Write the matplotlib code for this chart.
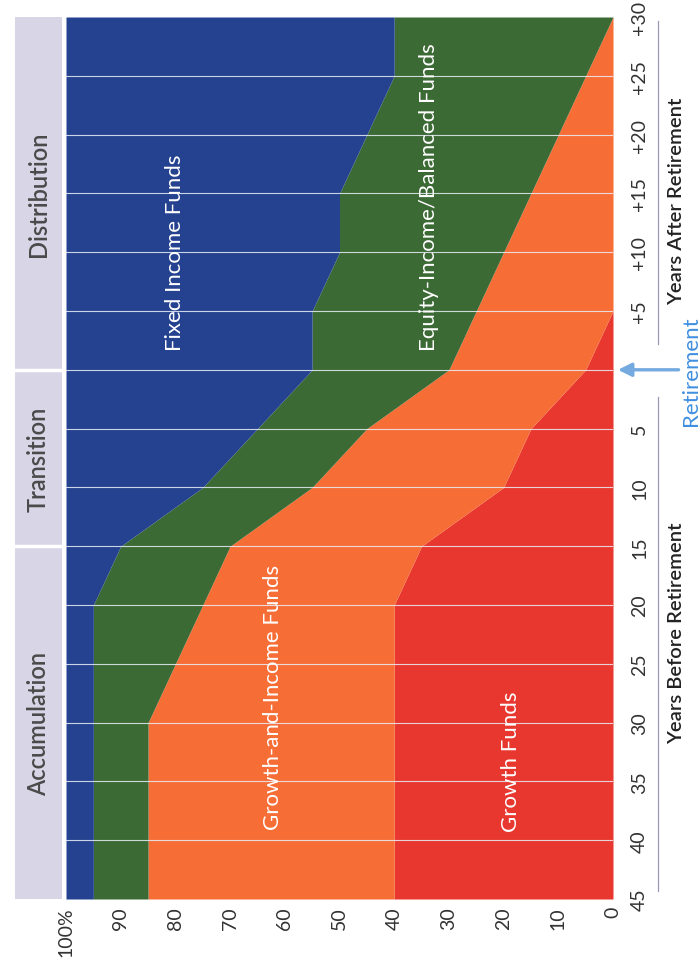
import numpy as np
import matplotlib.pyplot as plt
from matplotlib.lines import Line2D
from matplotlib.transforms import blended_transform_factory

plt.rcParams['font.family'] = ['Lato', 'DejaVu Sans']

# years relative to retirement, one row every 5 years
positions = np.arange(16)
year_labels = ['45', '40', '35', '30', '25', '20', '15', '10', '5', '',
               '+5', '+10', '+15', '+20', '+25', '+30']
retire_pos = 9

# allocation mix (%) at each step
growth = [40, 40, 40, 40, 40, 40, 35, 20, 15, 5, 0, 0, 0, 0, 0, 0]
growth_income = [45, 45, 45, 45, 40, 35, 35, 35, 30, 25, 25, 20, 15, 10, 5, 0]
equity_balanced = [10, 10, 10, 10, 15, 20, 20, 20, 20, 25, 30, 30, 35, 35, 35, 40]
fixed_income = [5, 5, 5, 5, 5, 5, 10, 25, 35, 45, 45, 50, 50, 55, 60, 60]

phases = ['Accumulation', 'Transition', 'Distribution']
phase_edges = [0, 6, 9, 15]

pct_ticks = [0, 10, 20, 30, 40, 50, 60, 70, 80, 90, 100]
pct_labels = ['0', '10', '20', '30', '40', '50', '60', '70', '80', '90', '100%']

colors = ['#e8372f', '#f76d36', '#3c6a34', '#24428f']

W, H = 700, 962
fig = plt.figure(figsize=(7, 9.62), dpi=100)
fig.patch.set_facecolor('white')

left, right, top, bottom = 66, 613, 18, 900
ax = fig.add_axes([left / W, 1 - bottom / H, (right - left) / W, (bottom - top) / H])

# stacked bands, drawn sideways
series = [growth, growth_income, equity_balanced, fixed_income]
base = np.zeros(len(positions))
for vals, c in zip(series, colors):
    upper = base + np.array(vals)
    ax.fill_betweenx(positions, base, upper, color=c, lw=0)
    base = upper

ax.set_xlim(100, 0)
ax.set_ylim(positions[0], positions[-1])
for p in positions[1:-1]:
    ax.axhline(p, color='#e9eef8', lw=0.8, alpha=0.85)

ax.set_xticks(pct_ticks)
ax.set_xticklabels(pct_labels, rotation=90, fontsize=14, color='#333333')
ax.yaxis.tick_right()
ax.set_yticks(positions)
ax.set_yticklabels(year_labels, rotation=90, fontsize=14, color='#333333', va='center')
ax.tick_params(length=0)
ax.tick_params(axis='x', pad=5)
ax.tick_params(axis='y', pad=13)
for s in ax.spines.values():
    s.set_visible(False)

# band names
lab = dict(color='white', rotation=90, ha='center', va='center', fontsize=16)
ax.text(80, 11.0, 'Fixed Income Funds', **lab)
ax.text(33.6, 11.95, 'Equity-Income/Balanced Funds', **lab)
ax.text(62.2, 3.45, 'Growth-and-Income Funds', **lab)
ax.text(18.6, 2.35, 'Growth Funds', **lab)

# retirement marker
tr = blended_transform_factory(ax.transAxes, ax.transData)
ax.annotate('', xy=(1.004, retire_pos), xytext=(1.125, retire_pos),
            xycoords=tr, textcoords=tr, annotation_clip=False,
            arrowprops=dict(arrowstyle='-|>', color='#74aae0', lw=2.4, mutation_scale=20))
ax.text(1.143, retire_pos, 'Retirement', transform=tr, rotation=90, ha='center',
        va='center', fontsize=16, color='#3f8fe0')

# axis captions and their rules
fig.text(677 / W, 1 - 633 / H, 'Years Before Retirement', rotation=90, ha='center',
         va='center', fontsize=14.5, fontweight='semibold', color='#222222')
fig.text(677 / W, 1 - 201 / H, 'Years After Retirement', rotation=90, ha='center',
         va='center', fontsize=14.5, fontweight='semibold', color='#222222')
for y0, y1 in [(22, 345), (398, 892)]:
    fig.add_artist(Line2D([658 / W, 658 / W], [1 - y0 / H, 1 - y1 / H],
                          color='#9a9ab8', lw=0.9))

# phase header strip
hx = fig.add_axes([15 / W, 1 - bottom / H, 47 / W, (bottom - top) / H])
hx.set_facecolor('#d8d5e7')
hx.set_xlim(0, 1)
hx.set_ylim(positions[0], positions[-1])
for e in phase_edges[1:-1]:
    hx.axhline(e, color='white', lw=2.5)
for name, a, b in zip(phases, phase_edges[:-1], phase_edges[1:]):
    hx.text(0.5, (a + b) / 2, name, rotation=90, ha='center', va='center',
            fontsize=17, fontweight='semibold', color='#4a4a4a')
hx.set_xticks([])
hx.set_yticks([])
for s in hx.spines.values():
    s.set_visible(False)

fig.savefig('out.png', dpi=100)
